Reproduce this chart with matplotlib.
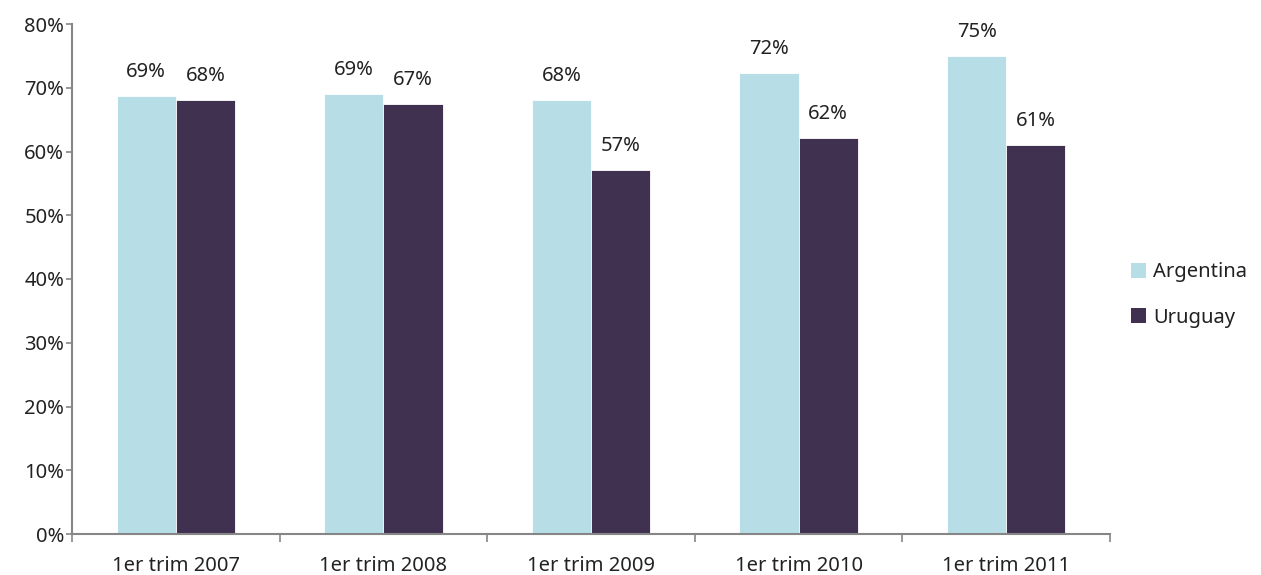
import matplotlib
matplotlib.use("Agg")
import matplotlib.pyplot as plt
import numpy as np
from matplotlib.patches import Patch

categories = ["1er trim 2007", "1er trim 2008", "1er trim 2009", "1er trim 2010", "1er trim 2011"]
argentina = [68.7, 69.0, 68.1, 72.3, 75.0]
uruguay = [68.1, 67.5, 57.1, 62.1, 61.0]
arg_labels = ["69%", "69%", "68%", "72%", "75%"]
uru_labels = ["68%", "67%", "57%", "62%", "61%"]

plt.rcParams['font.family'] = ['Noto Sans', 'DejaVu Sans']
c_arg = "#b7dde7"
c_uru = "#403151"
axc = "#868686"
tc = "#222222"
fs = 14.5

fig = plt.figure(figsize=(12.61, 5.75), dpi=100)
ax = fig.add_axes([72/1261, 1-534/575, (1110-72)/1261, (534-24)/575])

x = np.arange(len(categories))
w = 0.285
ax.bar(x - w/2, argentina, w, color=c_arg, edgecolor="white", linewidth=0.6)
ax.bar(x + w/2, uruguay, w, color=c_uru, edgecolor="white", linewidth=0.6)

for i in range(len(categories)):
    ax.annotate(arg_labels[i], (x[i] - w/2, argentina[i]), xytext=(0, 10), textcoords="offset points",
                ha="center", va="bottom", fontsize=fs, color=tc, fontweight="light")
    ax.annotate(uru_labels[i], (x[i] + w/2, uruguay[i]), xytext=(0, 10), textcoords="offset points",
                ha="center", va="bottom", fontsize=fs, color=tc, fontweight="light")

ax.set_xlim(-0.5, len(categories) - 0.5)
ax.set_ylim(0, 80)
ax.set_yticks(np.arange(0, 81, 10))
ax.set_yticklabels([f"{v}%" for v in range(0, 81, 10)], fontsize=fs, color=tc, fontweight="light")

ax.set_xticks(x)
ax.set_xticklabels(categories, fontsize=fs, color=tc, fontweight="light")
ax.tick_params(axis="x", length=0, pad=16)
ax.set_xticks(np.arange(-0.5, len(categories), 1), minor=True)
ax.tick_params(axis="x", which="minor", length=6, width=1.2, color=axc, direction="out")
ax.tick_params(axis="y", length=4.5, width=1.2, color=axc, direction="out", pad=1.0)

for s in ["top", "right"]:
    ax.spines[s].set_visible(False)
for s in ["left", "bottom"]:
    ax.spines[s].set_color(axc)
    ax.spines[s].set_linewidth(1.5)

handles = [Patch(facecolor=c_arg, label="Argentina"), Patch(facecolor=c_uru, label="Uruguay")]
fig.legend(handles=handles, loc="center left", bbox_to_anchor=(1113/1261, 1-295/575), frameon=False,
           fontsize=fs, handlelength=0.75, handleheight=0.75, handletextpad=0.35, labelspacing=1.25,
           labelcolor=tc, prop={"weight": "light", "size": fs})

fig.savefig("out.png", dpi=100)
